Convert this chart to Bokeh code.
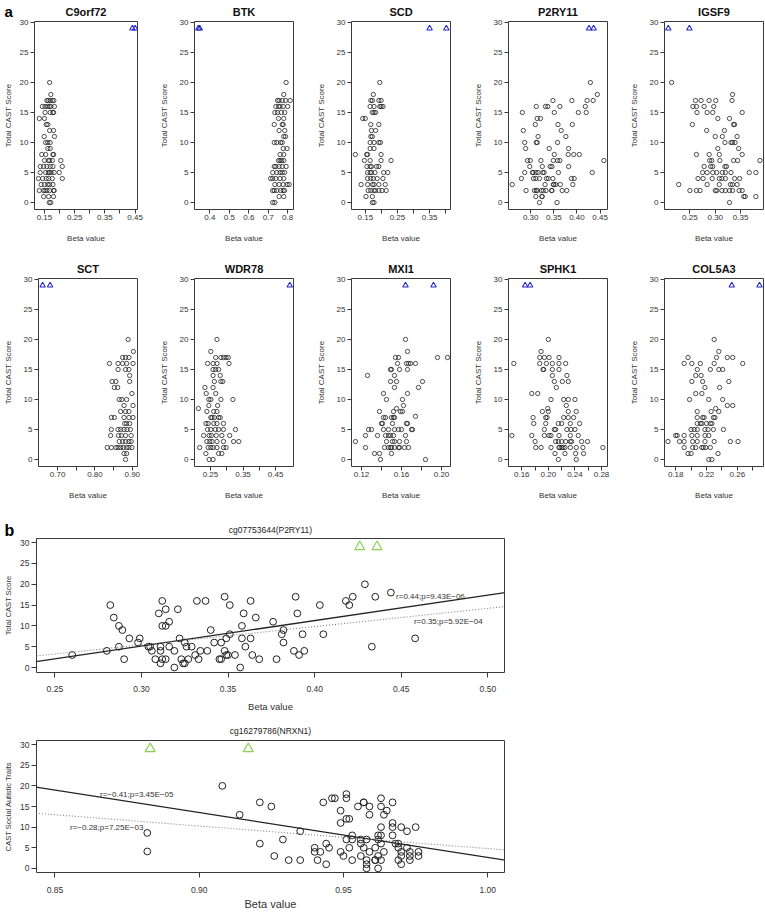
from bokeh.plotting import figure
from bokeh.layouts import column, row
from bokeh.models import Range1d, FixedTicker, PrintfTickFormatter, Slope, Label
from bokeh.embed import file_html
from bokeh.resources import INLINE

# ------------------------------------------------------------------ data
score_ticks = [0, 5, 10, 15, 20, 25, 30]
outlier_score = [29, 29]

c9orf72_x = [0.167, 0.171,
             0.158, 0.163, 0.169, 0.176, 0.181,
             0.143, 0.152, 0.160, 0.166, 0.171, 0.183,
             0.152, 0.169, 0.178, 0.180,
             0.133, 0.150, 0.156, 0.161, 0.167, 0.180, 0.149, 0.183,
             0.154, 0.161, 0.169, 0.161, 0.169,
             0.141, 0.154, 0.178, 0.180,
             0.150, 0.163, 0.167, 0.176, 0.204,
             0.136, 0.147, 0.158, 0.169, 0.178, 0.209,
             0.136, 0.154, 0.163, 0.167, 0.172, 0.182, 0.199,
             0.130, 0.144, 0.156, 0.164, 0.176, 0.209,
             0.139, 0.150, 0.161, 0.167, 0.178,
             0.133, 0.147, 0.152, 0.158, 0.167, 0.180, 0.182,
             0.147, 0.164, 0.180, 0.166, 0.171]
c9orf72_y = [20, 18,
             17, 17, 17, 17, 17,
             16, 16, 16, 16, 16, 16,
             15, 15, 15, 15,
             14, 14, 13, 13, 12, 12, 11, 11,
             10, 10, 10, 9, 9,
             8, 8, 8, 8,
             7, 7, 7, 7, 7,
             6, 6, 6, 6, 6, 6,
             5, 5, 5, 5, 5, 5, 5,
             4, 4, 4, 4, 4, 4,
             3, 3, 3, 3, 3,
             2, 2, 2, 2, 2, 2, 2,
             1, 1, 1, 0, 0]
c9orf72_tri = [0.441, 0.450]

btk_x = [0.792, 0.780,
         0.748, 0.756, 0.772, 0.789, 0.813,
         0.739, 0.753, 0.761, 0.777, 0.800,
         0.734, 0.748, 0.767, 0.785,
         0.753, 0.780, 0.731, 0.772, 0.777, 0.756, 0.785, 0.780, 0.789,
         0.731, 0.744, 0.764, 0.772, 0.777, 0.797, 0.761, 0.780,
         0.753, 0.761, 0.769, 0.780,
         0.731, 0.739, 0.756, 0.772, 0.792,
         0.723, 0.744, 0.761, 0.772, 0.784,
         0.712, 0.723, 0.739, 0.761, 0.780,
         0.734, 0.756, 0.777, 0.797, 0.808,
         0.723, 0.731, 0.744, 0.764, 0.777, 0.784,
         0.756, 0.780, 0.723, 0.734]
btk_y = [20, 18,
         17, 17, 17, 17, 17,
         16, 16, 16, 16, 16,
         15, 15, 15, 15,
         14, 14, 13, 13, 13, 12, 12, 11, 11,
         10, 10, 10, 10, 9, 9, 8, 8,
         7, 7, 7, 7,
         6, 6, 6, 6, 6,
         5, 5, 5, 5, 5,
         4, 4, 4, 4, 4,
         3, 3, 3, 3, 3,
         2, 2, 2, 2, 2, 2,
         1, 1, 0, 0]
btk_tri = [0.341, 0.348]

scd_x = [0.195, 0.175,
         0.167, 0.172, 0.192, 0.199,
         0.165, 0.177, 0.195, 0.199, 0.205,
         0.172, 0.177, 0.182,
         0.142, 0.150, 0.167, 0.192, 0.169, 0.182, 0.167, 0.172,
         0.165, 0.177, 0.192, 0.197, 0.165, 0.177,
         0.119, 0.154, 0.157, 0.199,
         0.147, 0.165, 0.199, 0.230,
         0.155, 0.165, 0.169, 0.185, 0.192,
         0.157, 0.165, 0.169, 0.180, 0.207, 0.220,
         0.157, 0.167, 0.175, 0.187, 0.205,
         0.137, 0.157, 0.172, 0.177, 0.192, 0.212,
         0.159, 0.167, 0.177, 0.182, 0.192, 0.202, 0.215,
         0.152, 0.172, 0.172, 0.177]
scd_y = [20, 18,
         17, 17, 17, 17,
         16, 16, 16, 16, 16,
         15, 15, 15,
         14, 14, 13, 13, 12, 12, 11, 11,
         10, 10, 10, 10, 9, 9,
         8, 8, 8, 8,
         7, 7, 7, 7,
         6, 6, 6, 6, 6,
         5, 5, 5, 5, 5, 5,
         4, 4, 4, 4, 4,
         3, 3, 3, 3, 3, 3,
         2, 2, 2, 2, 2, 2, 2,
         1, 1, 0, 0]
scd_tri = [0.350, 0.402]

# P2RY11 (cg07753644): shown in panel a and enlarged in panel b
p2ry11_x = [0.260, 0.280, 0.282, 0.284, 0.287, 0.289, 0.287, 0.290, 0.293, 0.298,
            0.299, 0.304, 0.305, 0.306, 0.308, 0.310, 0.312, 0.312, 0.311, 0.311,
            0.311, 0.312, 0.314, 0.314, 0.316, 0.316, 0.314, 0.321, 0.322, 0.319,
            0.319, 0.323, 0.324, 0.325, 0.325, 0.326, 0.327, 0.329, 0.331, 0.332,
            0.333, 0.334, 0.337, 0.338, 0.340, 0.342, 0.345, 0.346, 0.346, 0.348,
            0.348, 0.349, 0.349, 0.350, 0.351, 0.351, 0.354, 0.357, 0.358, 0.358,
            0.359, 0.360, 0.363, 0.363, 0.364, 0.366, 0.368, 0.376, 0.378, 0.381,
            0.382, 0.382, 0.388, 0.389, 0.390, 0.391, 0.393, 0.394, 0.403, 0.405,
            0.418, 0.420, 0.422, 0.429, 0.433, 0.435, 0.444, 0.458]
p2ry11_y = [3, 4, 15, 12, 10, 9, 5, 2, 7, 6,
            7, 5, 5, 4, 2, 13, 16, 10, 4, 5,
            1, 2, 14, 10, 11, 5, 2, 14, 7, 0,
            4, 2, 1, 1, 6, 5, 2, 5, 3, 16,
            2, 4, 16, 4, 9, 6, 2, 2, 6, 17,
            4, 3, 7, 3, 8, 15, 3, 0, 10, 7,
            13, 5, 16, 7, 3, 12, 2, 11, 2, 8,
            9, 6, 4, 17, 13, 3, 8, 4, 15, 8,
            16, 15, 17, 20, 5, 17, 18, 7]
p2ry11_tri = [0.426, 0.436]

igsf9_x = [0.214, 0.334,
           0.261, 0.272, 0.288, 0.301, 0.333,
           0.256, 0.263, 0.278, 0.297,
           0.264, 0.284, 0.295, 0.353,
           0.305, 0.328, 0.255, 0.336, 0.338, 0.283, 0.318,
           0.300, 0.314, 0.343, 0.319, 0.331, 0.334, 0.339, 0.305, 0.346,
           0.263, 0.288, 0.308, 0.353,
           0.289, 0.293, 0.309, 0.336, 0.344, 0.388,
           0.278, 0.291, 0.295, 0.319, 0.322,
           0.275, 0.284, 0.295, 0.303, 0.314, 0.320, 0.331, 0.367, 0.380,
           0.266, 0.276, 0.294, 0.308, 0.313, 0.320, 0.338, 0.348,
           0.228, 0.284, 0.308, 0.330, 0.334, 0.343,
           0.250, 0.263, 0.270, 0.300, 0.303, 0.313, 0.320, 0.328, 0.334, 0.347, 0.353,
           0.356, 0.359, 0.380, 0.328]
igsf9_y = [20, 18,
           17, 17, 17, 17, 17,
           16, 16, 16, 16,
           15, 15, 15, 15,
           14, 14, 13, 13, 13, 12, 12,
           11, 11, 11, 10, 10, 10, 10, 9, 9,
           8, 8, 8, 8,
           7, 7, 7, 7, 7, 7,
           6, 6, 6, 6, 6,
           5, 5, 5, 5, 5, 5, 5, 5, 5,
           4, 4, 4, 4, 4, 4, 4, 4,
           3, 3, 3, 3, 3, 3,
           2, 2, 2, 2, 2, 2, 2, 2, 2, 2, 2,
           1, 1, 1, 0]
igsf9_tri = [0.2075, 0.249]

sct_x = [0.889, 0.903,
         0.874, 0.882, 0.891,
         0.839, 0.862, 0.874, 0.885, 0.902,
         0.862, 0.882, 0.891,
         0.893, 0.846, 0.856, 0.893, 0.852, 0.861, 0.899,
         0.865, 0.872, 0.885, 0.878, 0.902,
         0.869, 0.882, 0.891,
         0.844, 0.852, 0.878, 0.891, 0.902,
         0.880, 0.885, 0.893,
         0.844, 0.862, 0.869, 0.878, 0.886, 0.895,
         0.842, 0.863, 0.871, 0.882, 0.897,
         0.865, 0.874, 0.882, 0.891, 0.897,
         0.833, 0.844, 0.856, 0.862, 0.869, 0.876, 0.885, 0.891, 0.899,
         0.878, 0.885, 0.882]
sct_y = [20, 18,
         17, 17, 17,
         16, 16, 16, 16, 16,
         15, 15, 15,
         14, 13, 13, 13, 12, 12, 11,
         10, 10, 10, 9, 9,
         8, 8, 8,
         7, 7, 7, 7, 7,
         6, 6, 6,
         5, 5, 5, 5, 5, 5,
         4, 4, 4, 4, 4,
         3, 3, 3, 3, 3,
         2, 2, 2, 2, 2, 2, 2, 2, 2,
         1, 1, 0]
sct_tri = [0.660, 0.680]

wdr78_x = [0.270, 0.251,
           0.266, 0.282, 0.290, 0.298, 0.305,
           0.241, 0.258, 0.270, 0.307,
           0.258, 0.266, 0.275,
           0.258, 0.280, 0.262, 0.282, 0.288, 0.233, 0.258, 0.237, 0.266,
           0.245, 0.251, 0.282, 0.319, 0.245, 0.272, 0.213,
           0.239, 0.260, 0.270,
           0.251, 0.255, 0.262, 0.275, 0.280,
           0.236, 0.243, 0.260, 0.270, 0.290,
           0.241, 0.251, 0.265, 0.275, 0.290, 0.327,
           0.229, 0.246, 0.253, 0.268, 0.285, 0.309,
           0.239, 0.248, 0.255, 0.270, 0.290, 0.321, 0.337,
           0.217, 0.243, 0.251, 0.258, 0.270, 0.290, 0.298,
           0.236, 0.275, 0.285, 0.246, 0.258]
wdr78_y = [20, 18,
           17, 17, 17, 17, 17,
           16, 16, 16, 16,
           15, 15, 15,
           14, 14, 13, 13, 13, 12, 12, 11, 11,
           10, 10, 10, 10, 9, 9, 8.5,
           8, 8, 8,
           7, 7, 7, 7, 7,
           6, 6, 6, 6, 6,
           5, 5, 5, 5, 5, 5,
           4, 4, 4, 4, 4, 4,
           3, 3, 3, 3, 3, 3, 3,
           2, 2, 2, 2, 2, 2, 2,
           1, 1, 1, 0, 0]
wdr78_tri = [0.4936]

mxi1_x = [0.164, 0.166,
          0.154, 0.157, 0.196, 0.206,
          0.156, 0.165, 0.167, 0.169, 0.174,
          0.149, 0.150, 0.158, 0.166,
          0.126, 0.153, 0.149, 0.155, 0.181, 0.153, 0.177, 0.142, 0.166,
          0.145, 0.161, 0.162, 0.155,
          0.138, 0.152, 0.159, 0.161, 0.174,
          0.142, 0.144, 0.150, 0.152, 0.153,
          0.140, 0.141, 0.151, 0.165, 0.166,
          0.127, 0.130, 0.142, 0.147, 0.153, 0.157, 0.160, 0.170, 0.171,
          0.124, 0.136, 0.144, 0.147, 0.149, 0.152, 0.164,
          0.114, 0.145, 0.151, 0.153, 0.158, 0.165,
          0.124, 0.143, 0.147, 0.149, 0.150, 0.153, 0.157, 0.158, 0.163, 0.167,
          0.133, 0.138, 0.150, 0.139, 0.184]
mxi1_y = [20, 18,
          17, 17, 17, 17,
          16, 16, 16, 16, 16,
          15, 15, 15, 15,
          14, 14, 13, 13, 13, 12, 12, 11, 11,
          10, 10, 9, 8.5,
          8, 8, 8, 8, 7.2,
          7, 7, 7, 7, 7,
          6, 6, 6, 6, 6,
          5, 5, 5, 5, 5, 5, 5, 5, 5,
          4, 4, 4, 4, 4, 4, 4,
          3, 3, 3, 3, 3, 3,
          2, 2, 2, 2, 2, 2, 2, 2, 2, 2,
          1, 1, 1, 0, 0]
mxi1_tri = [0.164, 0.192]

sphk1_x = [0.200, 0.189,
           0.187, 0.194, 0.201, 0.216,
           0.148, 0.187, 0.197, 0.206, 0.216, 0.226,
           0.192, 0.193, 0.206, 0.216,
           0.206, 0.228, 0.209, 0.221, 0.230, 0.212, 0.175, 0.184,
           0.204, 0.223, 0.230, 0.240, 0.227, 0.199,
           0.191, 0.200, 0.230, 0.242,
           0.177, 0.196, 0.198, 0.223, 0.230, 0.238,
           0.178, 0.196, 0.215, 0.220, 0.233, 0.247,
           0.194, 0.209, 0.211, 0.228, 0.234, 0.240,
           0.145, 0.175, 0.194, 0.201, 0.204, 0.216, 0.233, 0.245,
           0.180, 0.211, 0.215, 0.220, 0.226, 0.233, 0.235, 0.250, 0.259,
           0.181, 0.189, 0.204, 0.216, 0.217, 0.220, 0.222, 0.225, 0.233, 0.242, 0.252, 0.282,
           0.210, 0.225, 0.241, 0.253, 0.215, 0.242]
sphk1_y = [20, 18,
           17, 17, 17, 17,
           16, 16, 16, 16, 16, 16,
           15, 15, 15, 15,
           14, 14, 13, 13, 13, 12, 11, 11,
           10, 10, 10, 10, 9, 8.5,
           8, 8, 8, 8,
           7, 7, 7, 7, 7, 7,
           6, 6, 6, 6, 6, 6,
           5, 5, 5, 5, 5, 5,
           4, 4, 4, 4, 4, 4, 4, 4,
           3, 3, 3, 3, 3, 3, 3, 3, 3,
           2, 2, 2, 2, 2, 2, 2, 2, 2, 2, 2, 2,
           1, 1, 1, 1, 0, 0]
sphk1_tri = [0.165, 0.1725]

col5a3_x = [0.230, 0.236,
            0.196, 0.233, 0.247, 0.254,
            0.191, 0.201, 0.212, 0.230, 0.267,
            0.208, 0.225, 0.236, 0.241,
            0.206, 0.213, 0.201, 0.215, 0.249, 0.218, 0.237, 0.206, 0.214,
            0.198, 0.223, 0.241, 0.247, 0.254, 0.232,
            0.208, 0.226, 0.236,
            0.208, 0.215, 0.217, 0.229, 0.231,
            0.208, 0.212, 0.214, 0.220, 0.225, 0.227,
            0.200, 0.204, 0.208, 0.218, 0.222, 0.229, 0.242,
            0.180, 0.182, 0.191, 0.201, 0.208, 0.218, 0.223,
            0.170, 0.185, 0.191, 0.202, 0.208, 0.218, 0.230, 0.251, 0.261,
            0.191, 0.202, 0.206, 0.214, 0.216, 0.219, 0.225,
            0.196, 0.200, 0.235, 0.223, 0.227]
col5a3_y = [20, 18,
            17, 17, 17, 17,
            16, 16, 16, 16, 16,
            15, 15, 15, 15,
            14, 14, 13, 13, 13, 12, 12, 11, 11,
            10, 10, 10, 9, 9, 8.5,
            8, 8, 8,
            7, 7, 7, 7, 7,
            6, 6, 6, 6, 6, 6,
            5, 5, 5, 5, 5, 5, 5,
            4, 4, 4, 4, 4, 4, 4,
            3, 3, 3, 3, 3, 3, 3, 3, 3,
            2, 2, 2, 2, 2, 2, 2,
            1, 1, 1, 0, 0]
col5a3_tri = [0.2528, 0.2888]

# NRXN1 (cg16279786) vs CAST social autistic traits
nrxn1_x = [0.882, 0.882, 0.908, 0.914, 0.921, 0.921, 0.925, 0.926, 0.929, 0.931,
           0.935, 0.935, 0.940, 0.940, 0.942, 0.941, 0.943, 0.944, 0.945, 0.944,
           0.946, 0.947, 0.949, 0.949, 0.949, 0.950, 0.951, 0.951, 0.951, 0.952,
           0.951, 0.952, 0.953, 0.953, 0.953, 0.955, 0.956, 0.956, 0.956, 0.957,
           0.957, 0.957, 0.958, 0.958, 0.958, 0.958, 0.959, 0.959, 0.959, 0.961,
           0.961, 0.961, 0.962, 0.962, 0.962, 0.962, 0.963, 0.963, 0.963, 0.963,
           0.963, 0.964, 0.964, 0.963, 0.965, 0.967, 0.967, 0.967, 0.967, 0.968,
           0.969, 0.969, 0.969, 0.970, 0.970, 0.970, 0.970, 0.972, 0.972, 0.973,
           0.973, 0.973, 0.975, 0.976, 0.976]
nrxn1_y = [8.6, 4.1, 20, 13, 16, 6, 15, 3, 7, 2,
           2, 9, 5, 4, 4, 2, 16, 6, 5, 1,
           17, 17, 14, 11, 4, 3, 18, 17, 12, 12,
           7, 5, 8, 7, 2, 15, 6, 7, 3, 16,
           16, 5, 1, 0, 7, 2, 15, 13, 4, 5,
           2, 2, 8, 7, 3, 0, 17, 10, 8, 6,
           15, 13, 4, 2, 14, 16, 11, 10, 8, 6,
           2, 6, 5, 4, 10, 3, 1, 9, 5, 3,
           4, 2, 10, 4, 3]
nrxn1_tri = [0.883, 0.917]

p2ry11_fit_solid = (61.3, -13.24)
p2ry11_fit_dotted = (43.8, -7.69)
nrxn1_fit_solid = (-109.0, 111.63)
nrxn1_fit_dotted = (-54.7, 59.5)
p2ry11_notes = [(0.447, 17, "r=0.44;p=9.43E\u221206"), (0.4573, 11, "r=0.35;p=5.92E\u221204")]
nrxn1_notes = [(0.8656, 18, "r=\u22120.41;p=3.45E\u221205"), (0.8552, 10, "r=\u22120.28;p=7.25E\u221203")]

# ------------------------------------------------------------------ styling
FONT = "Liberation Sans"
INK = "#222222"
FRAME = "#3a3a3a"
BLUE = "#2727c9"
GREEN = "#8ccf55"
SMALL_T, SMALL_F, SMALL_B = 20, 189, 48
ROW_H = SMALL_T + SMALL_F + SMALL_B
PB_T, PB_F, PB_B = 24, 134, 44
PB_H = PB_T + PB_F + PB_B


def styled_fig(width, height, xr, yr, bl, br, bt, bb):
    p = figure(width=width, height=height, x_range=Range1d(*xr), y_range=Range1d(*yr),
               output_backend="svg", toolbar_location=None, tools="",
               min_border_left=bl, min_border_right=br,
               min_border_top=bt, min_border_bottom=bb)
    p.grid.visible = False
    p.outline_line_color = FRAME
    p.outline_line_width = 1
    p.background_fill_color = "white"
    p.border_fill_color = "white"
    for ax in p.axis:
        ax.axis_line_color = None
        ax.major_tick_in = 0
        ax.major_tick_out = 4
        ax.minor_tick_in = 0
        ax.minor_tick_out = 4
        ax.major_tick_line_color = FRAME
        ax.minor_tick_line_color = FRAME
        ax.major_label_text_font = FONT
        ax.major_label_text_color = "#333333"
        ax.axis_label_text_font = FONT
        ax.axis_label_text_font_style = "normal"
        ax.axis_label_text_color = "#333333"
        ax.major_label_standoff = 2
    return p


def letter_strip(letter, width, bt, fh, bb, size, ylabel, ylab_size, title_offset, valign):
    # narrow canvas left of a panel: carries the panel letter and that panel's y-axis title
    s = figure(width=width, height=bt + fh + bb, x_range=Range1d(0, 1), y_range=Range1d(0, 1),
               output_backend="svg", toolbar_location=None, tools="", x_axis_type=None,
               min_border_left=0, min_border_right=0, min_border_top=bt, min_border_bottom=bb)
    s.grid.visible = False
    s.outline_line_color = None
    s.border_fill_color = "white"
    s.background_fill_color = "white"
    ax = s.yaxis[0]
    ax.ticker = FixedTicker(ticks=[])
    ax.axis_line_color = None
    ax.major_tick_out = 0
    ax.minor_tick_out = 0
    ax.major_tick_in = 0
    ax.minor_tick_in = 0
    ax.major_label_standoff = 0
    ax.axis_label = ylabel
    ax.axis_label_standoff = 0
    ax.axis_label_text_font = FONT
    ax.axis_label_text_font_size = ylab_size
    ax.axis_label_text_font_style = "normal"
    ax.axis_label_text_color = "#333333"
    s.title.text = letter
    s.title.align = "left"
    s.title.offset = title_offset
    s.title.standoff = 0
    s.title.vertical_align = valign
    s.title.text_font = FONT
    s.title.text_font_size = size
    s.title.text_font_style = "bold"
    s.title.text_color = "#000000"
    return s


def small_panel(name, xs, ys, tri, xr, major, minor, fmt, width, bl, br, title_gap,
                ylabel="Total CAST Score"):
    p = styled_fig(width, ROW_H, xr, (-1.16, 30.16), bl, br, SMALL_T, SMALL_B)
    p.title.text = name
    p.title.align = "center"
    p.title.text_font = FONT
    p.title.text_font_size = "11px"
    p.title.text_font_style = "bold"
    p.title.text_color = "#111111"
    p.title.standoff = title_gap
    p.xaxis.ticker = FixedTicker(ticks=major, minor_ticks=minor)
    p.xaxis.formatter = PrintfTickFormatter(format=fmt)
    p.yaxis.ticker = FixedTicker(ticks=score_ticks)
    p.xaxis.axis_label = "Beta value"
    for ax in p.axis:
        ax.major_label_text_font_size = "8px"
        ax.axis_label_text_font_size = "8px"
    p.xaxis.major_label_standoff = 1
    p.xaxis.axis_label_standoff = 11
    if ylabel:
        p.yaxis.axis_label = ylabel
        p.yaxis.axis_label_standoff = 8
    else:
        p.yaxis.axis_label_standoff = 0
    p.scatter(xs, ys, marker="circle", size=4.3, fill_color=None,
              line_color=INK, line_width=0.8)
    p.scatter(tri, outlier_score[:len(tri)], marker="triangle", size=5.5,
              fill_color=None, line_color=BLUE, line_width=1.1)
    return p


def big_panel(title, ylabel, xs, ys, tri, xr, yr, major, fits, notes,
              bl, bt, fh, bb, title_gap, xlab_size, tick_gap, xlab_gap, ylab_gap):
    p = styled_fig(bl + 468 + 10, bt + fh + bb, xr, yr, bl, 10, bt, bb)
    p.title.text = title
    p.title.align = "center"
    p.title.text_font = FONT
    p.title.text_font_size = "8.5px"
    p.title.text_font_style = "normal"
    p.title.text_color = "#222222"
    p.title.standoff = title_gap
    p.xaxis.ticker = FixedTicker(ticks=major)
    p.xaxis.formatter = PrintfTickFormatter(format="%.2f")
    p.yaxis.ticker = FixedTicker(ticks=score_ticks)
    p.xaxis.axis_label = "Beta value"
    if ylabel:
        p.yaxis.axis_label = ylabel
        p.yaxis.axis_label_text_font_size = "7.5px"
    p.xaxis.major_label_text_font_size = "8.5px"
    p.yaxis.major_label_text_font_size = "8.5px"
    p.xaxis.axis_label_text_font_size = xlab_size
    p.xaxis.major_tick_out = 5
    p.yaxis.major_tick_out = 5
    p.xaxis.major_label_standoff = tick_gap
    p.yaxis.major_label_standoff = 2
    p.xaxis.axis_label_standoff = xlab_gap
    p.yaxis.axis_label_standoff = ylab_gap
    (g1, b1), (g2, b2) = fits
    p.add_layout(Slope(gradient=g1, y_intercept=b1, line_color=INK, line_width=1.3))
    p.add_layout(Slope(gradient=g2, y_intercept=b2, line_color="#808080",
                       line_width=1.1, line_dash="1 2"))
    p.scatter(xs, ys, marker="circle", size=6.8, fill_color=None,
              line_color=INK, line_width=1.0)
    p.scatter(tri, outlier_score[:len(tri)], marker="triangle", size=10,
              fill_color=None, line_color=GREEN, line_width=1.2)
    for (nx, ny, txt) in notes:
        p.add_layout(Label(x=nx, y=ny, text=txt, text_font=FONT, text_font_size="8px",
                           text_color="#333333", text_baseline="middle", text_align="left"))
    return p


strip_a = letter_strip("a", 16, SMALL_T, SMALL_F, SMALL_B, "15px", "Total CAST Score", "8px",
                       -8, "top")
row1 = [
    small_panel("C9orf72", c9orf72_x, c9orf72_y, c9orf72_tri, (0.117, 0.458),
                [0.15, 0.25, 0.35, 0.45], [0.20, 0.30, 0.40], "%.2f", 140, 18, 19, 7, None),
    small_panel("BTK", btk_x, btk_y, btk_tri, (0.321, 0.830),
                [0.4, 0.5, 0.6, 0.7, 0.8], [], "%.1f", 157, 34, 20, 7),
    small_panel("SCD", scd_x, scd_y, scd_tri, (0.107, 0.415),
                [0.15, 0.25, 0.35], [0.20, 0.30, 0.40], "%.2f", 157, 34, 20, 7),
    small_panel("P2RY11", p2ry11_x, p2ry11_y, p2ry11_tri, (0.252, 0.466),
                [0.30, 0.35, 0.40, 0.45], [], "%.2f", 156, 34, 19, 7),
    small_panel("IGSF9", igsf9_x, igsf9_y, igsf9_tri, (0.200, 0.395),
                [0.25, 0.30, 0.35], [], "%.2f", 138, 34, 1, 7),
]
row2 = [
    small_panel("SCT", sct_x, sct_y, sct_tri, (0.649, 0.914),
                [0.70, 0.80, 0.90], [0.75, 0.85], "%.2f", 156, 34, 19, 7),
    small_panel("WDR78", wdr78_x, wdr78_y, wdr78_tri, (0.201, 0.505),
                [0.25, 0.35, 0.45], [0.30, 0.40], "%.2f", 157, 34, 20, 7),
    small_panel("MXI1", mxi1_x, mxi1_y, mxi1_tri, (0.110, 0.209),
                [0.12, 0.16, 0.20], [0.14, 0.18], "%.2f", 157, 34, 20, 7),
    small_panel("SPHK1", sphk1_x, sphk1_y, sphk1_tri, (0.140, 0.289),
                [0.16, 0.20, 0.24, 0.28], [0.18, 0.22, 0.26], "%.2f", 156, 34, 19, 7),
    small_panel("COL5A3", col5a3_x, col5a3_y, col5a3_tri, (0.1655, 0.294),
                [0.18, 0.22, 0.26], [0.20, 0.24, 0.28], "%.2f", 138, 34, 1, 7),
]

strip_b = letter_strip("b", 16, PB_T, PB_F, PB_B, "16px", "Total CAST Score", "7.5px",
                       -8, "bottom")
pb = big_panel("cg07753644(P2RY11)", None, p2ry11_x, p2ry11_y, p2ry11_tri,
               (0.2394, 0.5096), (-1.2, 31.0), [0.25, 0.30, 0.35, 0.40, 0.45, 0.50],
               [p2ry11_fit_solid, p2ry11_fit_dotted], p2ry11_notes,
               20, PB_T, PB_F, PB_B, 8, "9.5px", 8, 6, 0)

pc = big_panel("cg16279786(NRXN1)", "CAST Social Autistic Traits", nrxn1_x, nrxn1_y, nrxn1_tri,
               (0.8436, 1.0058), (-1.0, 31.0), [0.85, 0.90, 0.95, 1.00],
               [nrxn1_fit_solid, nrxn1_fit_dotted], nrxn1_notes,
               36, 24, 133, 39, 9, "11px", 9, 2, 4)

layout = column(row(strip_a, *row1), row(*row2), row(strip_b, pb), pc)

open("out.html", "w").write(file_html(layout, INLINE))
